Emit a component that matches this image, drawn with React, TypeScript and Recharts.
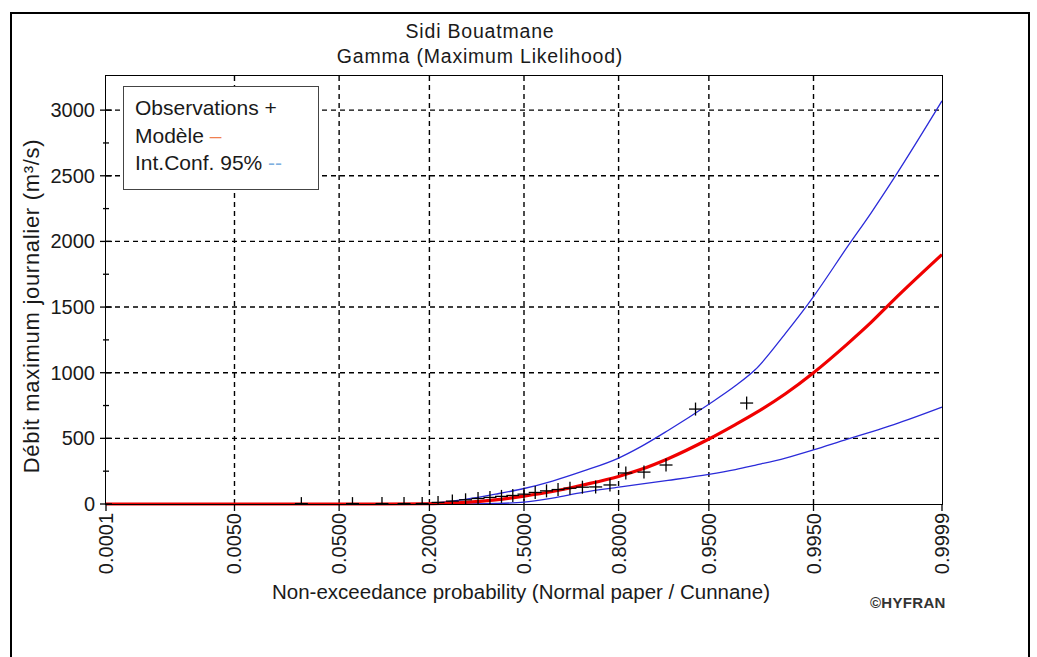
import React from 'react';
import { ComposedChart, Line, Scatter, XAxis, YAxis, CartesianGrid } from 'recharts';

// Normal-probability paper: probabilities of the axis ticks and their printed labels
const PROB_TICKS = [0.0001, 0.005, 0.05, 0.2, 0.5, 0.8, 0.95, 0.995, 0.9999];
const PROB_LABELS = ['0.0001', '0.0050', '0.0500', '0.2000', '0.5000', '0.8000', '0.9500', '0.9950', '0.9999'];

// Discharge axis (m³/s)
const Q_MAJOR_TICKS = [0, 500, 1000, 1500, 2000, 2500, 3000];
const Q_ALL_TICKS = [0, 250, 500, 750, 1000, 1250, 1500, 1750, 2000, 2250, 2500, 2750, 3000];
const Q_MAX = 3260;

// Gamma fit (maximum likelihood) and its 95% confidence band
const CURVE_P = [0.0001, 0.001, 0.01, 0.05, 0.1, 0.2, 0.25, 0.3, 0.4, 0.5, 0.6, 0.7, 0.8, 0.85, 0.9, 0.95, 0.97, 0.98, 0.99, 0.995, 0.998, 0.999, 0.9995, 0.9999];
const MODEL_Q = [0, 0, 0, 0, 0, 2, 6, 12, 32, 60, 95, 145, 210, 262, 345, 495, 605, 690, 840, 1000, 1220, 1385, 1555, 1900];
const UPPER_Q = [0, 0, 0, 0, 0, 5, 18, 35, 75, 118, 175, 250, 350, 435, 560, 760, 900, 1020, 1300, 1580, 1960, 2220, 2480, 3070];
const LOWER_Q = [0, 0, 0, 0, 0, 0, 0, 1, 4, 14, 45, 88, 128, 152, 180, 225, 262, 295, 350, 412, 495, 550, 605, 738];

// Observed annual maxima, plotted at Cunnane positions
const OBS_P = [0.0238, 0.0635, 0.1032, 0.1429, 0.1825, 0.2222, 0.2619, 0.3016, 0.3413, 0.381, 0.4206, 0.4603, 0.5, 0.5397, 0.5794, 0.619, 0.6587, 0.6984, 0.7381, 0.7778, 0.8175, 0.8571, 0.8968, 0.9365, 0.9762];
const OBS_Q = [3, 3, 3, 3, 3, 12, 22, 32, 42, 50, 58, 65, 75, 88, 100, 110, 120, 128, 130, 145, 236, 243, 297, 723, 769];

const FONT = '"Liberation Sans", Arial, sans-serif';
const PLOT_LEFT = 106;
const PLOT_TOP = 76;
const PLOT_RIGHT = 942;
const PLOT_BOTTOM = 504;

// inverse standard normal CDF (Acklam)
function probit(p: number): number {
  const a = [-39.69683028665376, 220.9460984245205, -275.9285104469687, 138.357751867269, -30.66479806614716, 2.506628274631];
  const b = [-54.47609879822406, 161.5858368580409, -155.6989798598866, 66.80131188771972, -13.28068155288572];
  const c = [-0.007784894002430293, -0.3223964580411365, -2.400758277161838, -2.549732539343734, 4.374664141464968, 2.938163982698783];
  const d = [0.007784695709041462, 0.3224671290700398, 2.445134137142996, 3.754408661907416];
  const pl = 0.02425;
  if (p < pl) {
    const q = Math.sqrt(-2 * Math.log(p));
    return (((((c[0] * q + c[1]) * q + c[2]) * q + c[3]) * q + c[4]) * q + c[5]) / ((((d[0] * q + d[1]) * q + d[2]) * q + d[3]) * q + 1);
  }
  if (p > 1 - pl) {
    const q = Math.sqrt(-2 * Math.log(1 - p));
    return -(((((c[0] * q + c[1]) * q + c[2]) * q + c[3]) * q + c[4]) * q + c[5]) / ((((d[0] * q + d[1]) * q + d[2]) * q + d[3]) * q + 1);
  }
  const q = p - 0.5;
  const r = q * q;
  return (((((a[0] * r + a[1]) * r + a[2]) * r + a[3]) * r + a[4]) * r + a[5]) * q / (((((b[0] * r + b[1]) * r + b[2]) * r + b[3]) * r + b[4]) * r + 1);
}

const X_TICKS = PROB_TICKS.map(probit);
const X_DOMAIN = [X_TICKS[0], X_TICKS[X_TICKS.length - 1]];

const modelData = CURVE_P.map((p, i) => ({ z: probit(p), q: MODEL_Q[i] }));
const upperData = CURVE_P.map((p, i) => ({ z: probit(p), q: UPPER_Q[i] }));
const lowerData = CURVE_P.map((p, i) => ({ z: probit(p), q: LOWER_Q[i] }));
const obsData = OBS_P.map((p, i) => ({ z: probit(p), q: OBS_Q[i] }));

// "+" marker; the vertical stroke stops at the bottom of the plot
const PlusMark = (props: any) => {
  const { cx, cy } = props;
  const h = 6.5;
  return (
    <g stroke="#000" strokeWidth={1.3}>
      <line x1={cx - h} x2={cx + h} y1={cy} y2={cy} />
      <line x1={cx} x2={cx} y1={cy - h} y2={Math.min(cy + h, PLOT_BOTTOM)} />
    </g>
  );
};

const XTick = (props: any) => {
  const { x, payload } = props;
  const idx = X_TICKS.findIndex((t) => Math.abs(t - payload.value) < 1e-6);
  const tx = x + 7;
  const ty = PLOT_BOTTOM + 9;
  return (
    <g>
      <line x1={x} x2={x} y1={PLOT_BOTTOM} y2={PLOT_BOTTOM + 7} stroke="#000" strokeWidth={1.3} />
      <text x={tx} y={ty} transform={`rotate(-90 ${tx} ${ty})`} textAnchor="end" fontSize={20} fontFamily={FONT} fill="#1a1a1a">
        {idx >= 0 ? PROB_LABELS[idx] : ''}
      </text>
    </g>
  );
};

const YTick = (props: any) => {
  const { y, payload } = props;
  const major = Q_MAJOR_TICKS.includes(payload.value);
  const len = major ? 6 : 3;
  return (
    <g>
      <line x1={PLOT_LEFT - len} x2={PLOT_LEFT + len} y1={y} y2={y} stroke="#000" strokeWidth={1.3} />
      {major && (
        <text x={PLOT_LEFT - 11} y={y} textAnchor="end" dominantBaseline="central" fontSize={20} fontFamily={FONT} fill="#1a1a1a">
          {payload.value}
        </text>
      )}
    </g>
  );
};

export default function App() {
  return (
    <div style={{ position: 'absolute', left: 0, top: 0, width: 1037, height: 657, overflow: 'hidden', background: '#fff', fontFamily: FONT, color: '#1a1a1a' }}>
      <div style={{ position: 'absolute', left: 10, top: 12, width: 1020, height: 700, border: '2px solid #000', boxSizing: 'border-box' }} />

      <div style={{ position: 'absolute', left: 0, top: 0 }}>
        <ComposedChart width={1037} height={657} margin={{ top: PLOT_TOP, right: 1037 - PLOT_RIGHT, bottom: 73, left: 46 }}>
          <CartesianGrid
            stroke="#000"
            strokeWidth={1.4}
            strokeDasharray="5 4"
            horizontalValues={Q_MAJOR_TICKS.slice(1)}
            verticalValues={X_TICKS.slice(1, -1)}
          />
          <XAxis
            type="number"
            dataKey="z"
            domain={X_DOMAIN}
            ticks={X_TICKS}
            tick={<XTick />}
            tickLine={false}
            axisLine={false}
            height={80}
            interval={0}
          />
          <YAxis
            type="number"
            domain={[0, Q_MAX]}
            ticks={Q_ALL_TICKS}
            tick={<YTick />}
            tickLine={false}
            axisLine={false}
            width={60}
            interval={0}
          />
          <Line data={upperData} dataKey="q" type="monotone" stroke="#2b2bd9" strokeWidth={1.3} dot={false} isAnimationActive={false} />
          <Line data={lowerData} dataKey="q" type="monotone" stroke="#2b2bd9" strokeWidth={1.3} dot={false} isAnimationActive={false} />
          <Scatter data={obsData} dataKey="q" shape={<PlusMark />} isAnimationActive={false} />
          <Line data={modelData} dataKey="q" type="monotone" stroke="#f00000" strokeWidth={3.2} dot={false} isAnimationActive={false} />
        </ComposedChart>
      </div>

      {/* plot frame */}
      <div style={{ position: 'absolute', left: PLOT_LEFT - 1, top: PLOT_TOP - 1, width: PLOT_RIGHT - PLOT_LEFT + 2, height: PLOT_BOTTOM - PLOT_TOP + 2, border: '1.5px solid #000', boxSizing: 'border-box', pointerEvents: 'none' }} />

      {/* title */}
      <div style={{ position: 'absolute', left: 230, width: 500, top: 19, textAlign: 'center', fontSize: 19.5, lineHeight: '25px', letterSpacing: 0.8 }}>
        <div>Sidi Bouatmane</div>
        <div>Gamma (Maximum Likelihood)</div>
      </div>

      {/* legend */}
      <div style={{ position: 'absolute', left: 123, top: 86, width: 196, height: 104, border: '1px solid #444', boxSizing: 'border-box', background: '#fff', padding: '7px 0 0 11px', fontSize: 21, lineHeight: '27.5px' }}>
        <div>Observations +</div>
        <div>Modèle <span style={{ color: '#f08050' }}>–</span></div>
        <div>Int.Conf. 95% <span style={{ color: '#7fb0e0' }}>--</span></div>
      </div>

      {/* axis titles */}
      <div style={{ position: 'absolute', left: 171, width: 700, top: 580, textAlign: 'center', fontSize: 20.5, lineHeight: '24px' }}>
        Non-exceedance probability (Normal paper / Cunnane)
      </div>
      <div style={{ position: 'absolute', left: 32 - 250, width: 500, top: 306 - 14, textAlign: 'center', fontSize: 22, lineHeight: '28px', letterSpacing: 0.7, transform: 'rotate(-90deg)' }}>
        Débit maximum journalier (m³/s)
      </div>

      <div style={{ position: 'absolute', left: 870, top: 595, fontSize: 15, fontWeight: 700, lineHeight: '16px', letterSpacing: 0.3, color: '#333' }}>
        ©HYFRAN
      </div>
    </div>
  );
}
